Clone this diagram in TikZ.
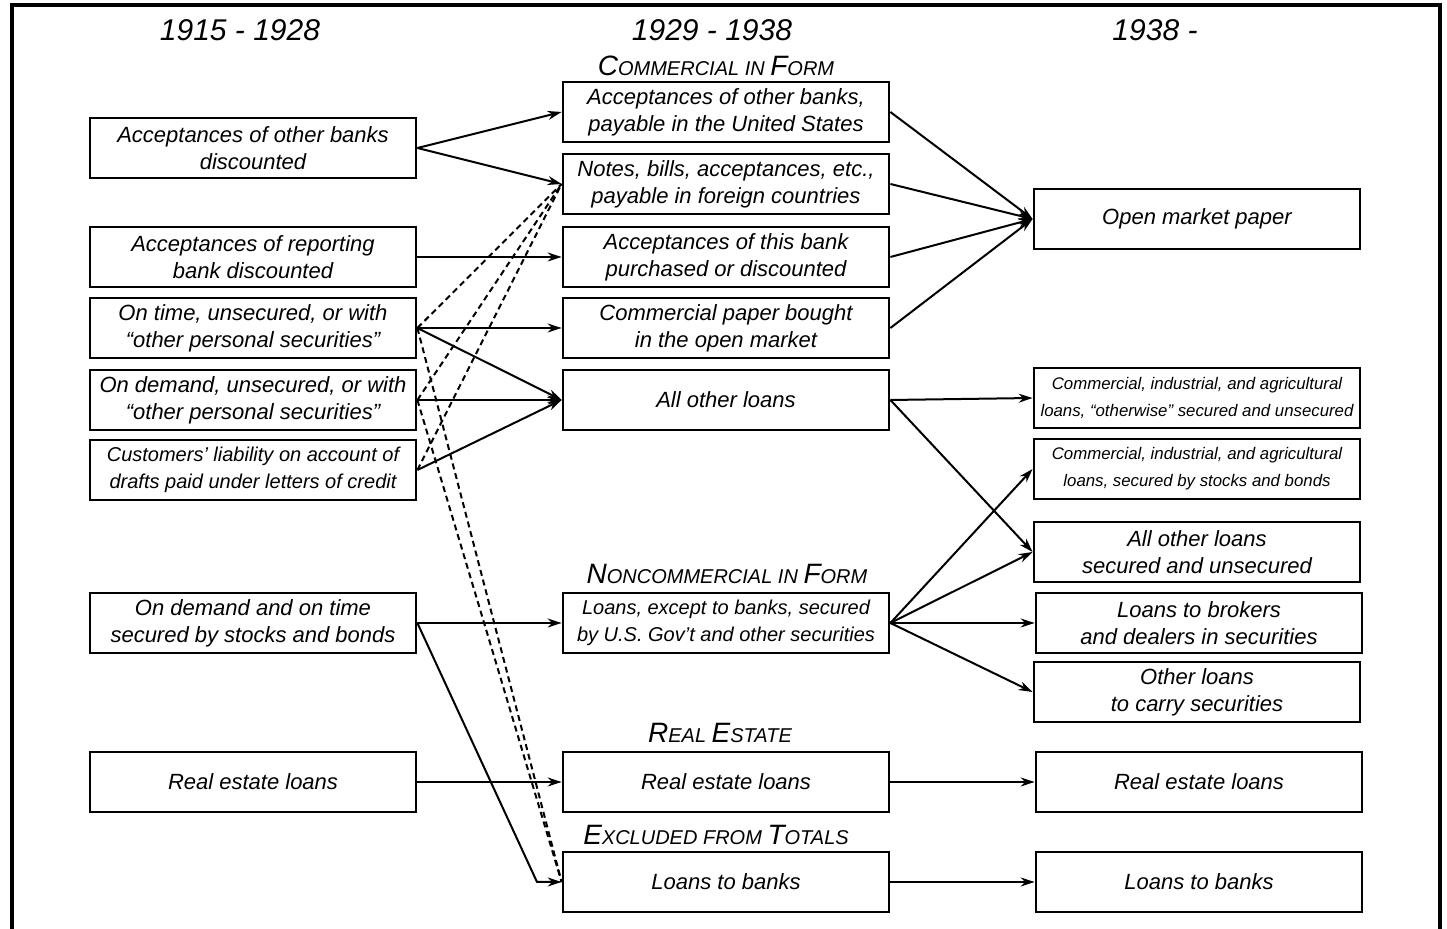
\documentclass[tikz,border=0pt]{standalone}
\usepackage{fontspec}
\setmainfont{Liberation Sans}
\usetikzlibrary{positioning,arrows.meta}
\newcommand{\capword}[2]{{\fontsize{14}{14}\selectfont #1}{\fontsize{10}{10}\selectfont #2}}

\begin{document}
\begin{tikzpicture}[x = 0.5pt, y = -0.5pt, node distance = 236.5pt and 236.5pt, on grid,
                    line width = 1pt,
                    box/.style   = {rectangle,
                                    draw,
                                    line width = 1.4pt,
                                    minimum width = 163pt,
                                    minimum height = 30pt,
                                    inner sep = 1pt,
                                    align = center,
                                    font = \itshape\fontsize{11}{13.5}\selectfont},
                    narrowbox/.style = {box,
                                    font = \itshape\fontsize{10}{13.5}\selectfont},
                    widebox/.style = {box,
                                    font = \itshape\fontsize{8.4}{13.5}\selectfont},
                    head/.style  = {font = \itshape},
                    year/.style  = {font = \itshape\fontsize{15}{15}\selectfont},
                    arr/.style   = {-{Stealth[length = 7pt, width = 4.5pt]}},
                    dsh/.style   = {dash pattern = on 3pt off 2pt}]

\useasboundingbox (0,0) rectangle (1447,929);
\draw[line width = 1.6pt] (12,929) -- (12,5) -- (1440,5) -- (1440,929);

\node[year] (y1) at (240,30) {1915 - 1928};
\node[year] (y2) at (712,30) {1929 - 1938};
\node[year] (y3) at (1155,30) {1938 -};

\node[head] (hcomm) at (716,66) {\capword{C}{OMMERCIAL} \capword{}{IN} \capword{F}{ORM}};
\node[head] (hnon) at (727,574) {\capword{N}{ONCOMMERCIAL} \capword{}{IN} \capword{F}{ORM}};
\node[head] (hreal) at (720,733) {\capword{R}{EAL} \capword{E}{STATE}};
\node[head] (hexcl) at (716,835) {\capword{E}{XCLUDED} \capword{}{FROM} \capword{T}{OTALS}};

% 1915 - 1928
\node[box] (accother) at (253,148) {Acceptances of other banks\\discounted};
\node[box] (accrep) at (253,257) {Acceptances of reporting\\bank discounted};
\node[box] (ontime) at (253,328) {On time, unsecured, or with\\“other personal securities”};
\node[box] (ondemand) at (253,400) {On demand, unsecured, or with\\“other personal securities”};
\node[narrowbox] (custliab) at (253,470) {Customers' liability on account of\\drafts paid under letters of credit};
\node[box] (stocks) at (253,623) {On demand and on time\\secured by stocks and bonds};
\node[box] (realest1) at (253,782) {Real estate loans};

% 1929 - 1938
\node[box] (accus) at (726,112) {Acceptances of other banks,\\payable in the United States};
\node[box] (notes) at (726,184) {Notes, bills, acceptances, etc.,\\payable in foreign countries};
\node[box] (accthis) [right = of accrep] {Acceptances of this bank\\purchased or discounted};
\node[box] (cpaper) [right = of ontime] {Commercial paper bought\\in the open market};
\node[box] (allother) [right = of ondemand] {All other loans};
\node[narrowbox] (govsec) [right = of stocks] {Loans, except to banks, secured\\by U.S. Gov't and other securities};
\node[box] (realest2) [right = of realest1] {Real estate loans};
\node[box] (banks2) at (726,882) {Loans to banks};

% 1938 -
\node[box] (openmkt) at (1197,219) {Open market paper};
\node[widebox] (cia1) at (1197,398) {Commercial, industrial, and agricultural\\loans, “otherwise” secured and unsecured};
\node[widebox] (cia2) at (1197,469) {Commercial, industrial, and agricultural\\loans, secured by stocks and bonds};
\node[box] (allother3) at (1197,552) {All other loans\\secured and unsecured};
\node[box] (brokers) [right = of govsec] {Loans to brokers\\and dealers in securities};
\node[box] (carry) at (1197,692) {Other loans\\to carry securities};
\node[box] (realest3) [right = of realest2] {Real estate loans};
\node[box] (banks3) [right = of banks2] {Loans to banks};

\draw[arr] (accother.east) -- (accus.west);
\draw[arr] (accother.east) -- (notes.west);
\draw[arr] (accrep.east) -- (accthis.west);
\draw[arr] (ontime.east) -- (cpaper.west);
\foreach \src in {ontime, ondemand, custliab}
  \draw[arr] (\src.east) -- (allother.west);
\foreach \src in {ontime, ondemand, custliab}
  \draw[dsh] (\src.east) -- (notes.west);
\foreach \src in {ontime, ondemand}
  \draw[dsh] (\src.east) -- (banks2.west);
\draw[arr] (stocks.east) -- (govsec.west);
\coordinate (kink) at (537,882);
\draw[arr] (stocks.east) -- (kink) -- (banks2.west);
\draw[arr] (realest1.east) -- (realest2.west);

\foreach \src in {accus, notes, accthis, cpaper}
  \draw[arr] (\src.east) -- (openmkt.west);
\foreach \dst in {cia1, allother3}
  \draw[arr] (allother.east) -- (\dst.west);
\foreach \dst in {cia2, allother3, brokers, carry}
  \draw[arr] (govsec.east) -- (\dst.west);
\draw[arr] (realest2.east) -- (realest3.west);
\draw[arr] (banks2.east) -- (banks3.west);

\end{tikzpicture}
\end{document}
